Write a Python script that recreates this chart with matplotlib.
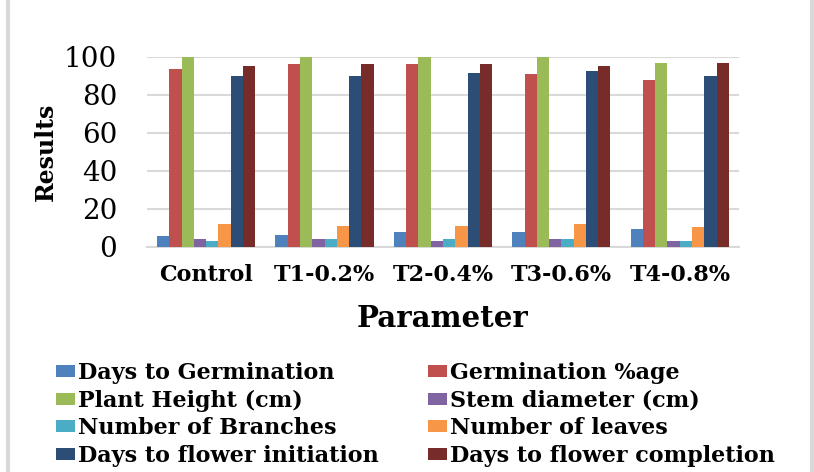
import matplotlib.pyplot as plt
import matplotlib.lines as mlines
import numpy as np

# data
treatments = ['Control', 'T1-0.2%', 'T2-0.4%', 'T3-0.6%', 'T4-0.8%']
series_names = ['Days to Germination', 'Germination %age', 'Plant Height (cm)',
                'Stem diameter (cm)', 'Number of Branches', 'Number of leaves',
                'Days to flower initiation', 'Days to flower completion']
days_to_germination = [5.6, 6.1, 7.7, 7.7, 9.3]
germination_pct = [93.5, 96.1, 96.1, 90.9, 87.7]
plant_height = [100, 100, 100, 100, 96.7]
stem_diameter = [4.0, 4.0, 3.0, 4.0, 3.0]
number_of_branches = [3.0, 4.0, 4.0, 4.0, 3.0]
number_of_leaves = [12.1, 10.9, 10.9, 12.1, 10.3]
flower_initiation = [90.0, 90.0, 91.4, 92.5, 90.0]
flower_completion = [95.3, 96.1, 96.1, 95.3, 96.7]
y_ticks = [0, 20, 40, 60, 80, 100]

colors = ['#4F81BD', '#C0504D', '#9BBB59', '#8064A2',
          '#4BACC6', '#F79646', '#2C4D75', '#772C2A']

series = [days_to_germination, germination_pct, plant_height, stem_diameter,
          number_of_branches, number_of_leaves, flower_initiation, flower_completion]

fig = plt.figure(figsize=(8.14, 4.72), dpi=100)
ax = fig.add_axes([0.1806, 0.4767, 0.7272, 0.4026])

x = np.arange(len(treatments))
n = len(series)
group = 0.83
width = group / n
bars = []
for i, vals in enumerate(series):
    b = ax.bar(x - group / 2 + width * (i + 0.5), vals, width,
               color=colors[i], label=series_names[i], zorder=3)
    bars.append(b)

ax.set_ylim(0, 100)
ax.set_xlim(-0.5, len(treatments) - 0.5)
ax.set_yticks(y_ticks)
ax.set_yticklabels([str(t) for t in y_ticks], family='DejaVu Serif', fontsize=20)
ax.set_xticks(x)
ax.set_xticklabels(treatments, family='DejaVu Serif', fontweight='bold', fontsize=16)
ax.tick_params(axis='x', length=0, pad=12)
ax.tick_params(axis='y', length=0, pad=21.6)
ax.grid(axis='y', color='#D9D9D9', linewidth=1.5, zorder=0)
for s in ['top', 'right', 'left']:
    ax.spines[s].set_visible(False)
ax.spines['bottom'].set_color('#D9D9D9')
ax.spines['bottom'].set_linewidth(1.5)

ax.set_ylabel('Results', family='DejaVu Serif', fontweight='bold', fontsize=17, labelpad=4)
ax.set_xlabel('Parameter', family='DejaVu Serif', fontweight='bold', fontsize=21, labelpad=13)

# legend is filled row by row in the reference
order = [0, 2, 4, 6, 1, 3, 5, 7]
leg = fig.legend([bars[i] for i in order], [series_names[i] for i in order],
                 ncol=2, loc='upper left', bbox_to_anchor=(0.0688, 0.233),
                 frameon=False, prop={'family': 'DejaVu Serif', 'weight': 'bold', 'size': 16},
                 handlelength=0.85, handleheight=0.45, handletextpad=0.15,
                 columnspacing=2.2, labelspacing=0.25, borderaxespad=0, borderpad=0)

# chart border lines on left and right
fig.add_artist(mlines.Line2D([0.0098, 0.0098], [0, 1], color='#D9D9D9', linewidth=3,
                             transform=fig.transFigure))
fig.add_artist(mlines.Line2D([0.9975, 0.9975], [0, 1], color='#D9D9D9', linewidth=3,
                             transform=fig.transFigure))

fig.savefig('out.png', dpi=100)
